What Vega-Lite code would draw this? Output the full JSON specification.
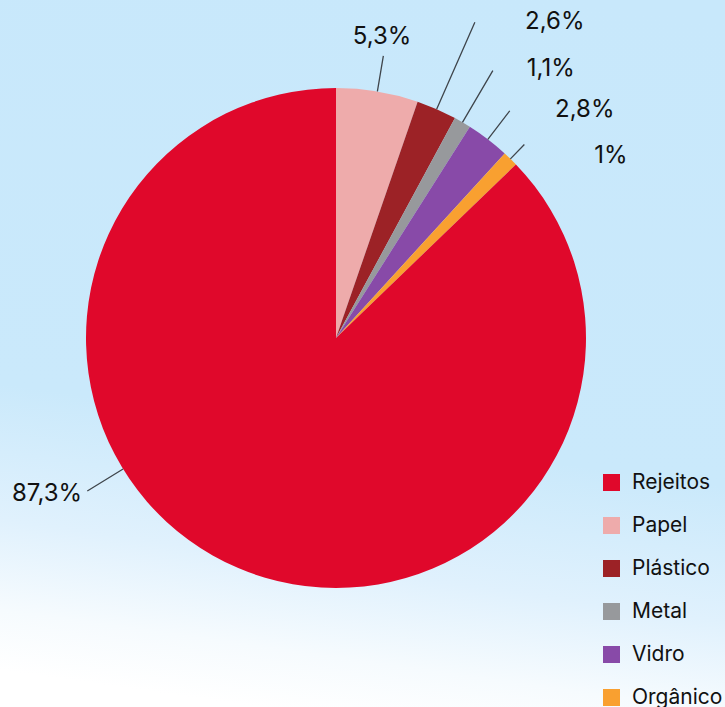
{
  "$schema": "https://vega.github.io/schema/vega-lite/v6.json",
  "width": 778,
  "height": 738,
  "autosize": {"type": "none"},
  "padding": {"left": -53, "top": -31, "right": 0, "bottom": 0},
  "background": "#ffffff",
  "config": {
    "view": {"stroke": null},
    "font": "Inter",
    "text": {"font": "Inter", "fontSize": 24, "color": "#111111", "align": "center", "baseline": "middle"}
  },
  "data": {
    "values": [
      {"categoria": "Papel", "pct": 5.3, "ordem": 1, "rotulo": "5,3%"},
      {"categoria": "Plástico", "pct": 2.6, "ordem": 2, "rotulo": "2,6%"},
      {"categoria": "Metal", "pct": 1.1, "ordem": 3, "rotulo": "1,1%"},
      {"categoria": "Vidro", "pct": 2.8, "ordem": 4, "rotulo": "2,8%"},
      {"categoria": "Orgânico", "pct": 1.0, "ordem": 5, "rotulo": "1%"},
      {"categoria": "Rejeitos", "pct": 87.3, "ordem": 6, "rotulo": "87,3%"}
    ]
  },
  "layer": [
    {
      "mark": {
        "type": "rect",
        "color": {"gradient": "linear", "x1": 0.55, "y1": 0, "x2": 0.4, "y2": 1,
          "stops": [
            {"offset": 0, "color": "#c8e8fb"},
            {"offset": 0.62, "color": "#cae9fb"},
            {"offset": 0.8, "color": "#e0f1fd"},
            {"offset": 0.92, "color": "#f6fbfe"},
            {"offset": 1, "color": "#ffffff"}
          ]}
      },
      "encoding": {}
    },
    {
      "encoding": {
        "theta": {"field": "pct", "type": "quantitative", "stack": true},
        "order": {"field": "ordem", "type": "quantitative"}
      },
      "layer": [
        {
          "mark": {"type": "arc", "outerRadius": 250, "strokeWidth": 0},
          "encoding": {
            "color": {
              "field": "categoria", "type": "nominal",
              "scale": {
                "domain": ["Rejeitos", "Papel", "Plástico", "Metal", "Vidro", "Orgânico"],
                "range": ["#e0082b", "#eeabab", "#9c2226", "#97999c", "#884aa8", "#f9a030"]
              },
              "legend": {
                "orient": "none", "legendX": 654, "legendY": 503, "title": null,
                "symbolType": "square", "symbolSize": 289, "symbolStrokeWidth": 0, "symbolOpacity": 1,
                "labelFontSize": 21, "labelFont": "Inter", "labelColor": "#111111",
                "labelOffset": 10, "rowPadding": 21, "padding": 0
              }
            }
          }
        },
        {
          "mark": {"type": "arc", "innerRadius": 250, "outerRadius": 286, "padAngle": 3, "filled": false, "stroke": "#3f454b", "strokeWidth": 1.3},
          "encoding": {"detail": {"field": "categoria"}, "strokeOpacity": {"condition": {"test": "datum.categoria === 'Papel'", "value": 1}, "value": 0}}
        },
        {
          "mark": {"type": "arc", "innerRadius": 250, "outerRadius": 345, "padAngle": 3, "filled": false, "stroke": "#3f454b", "strokeWidth": 1.3},
          "encoding": {"detail": {"field": "categoria"}, "strokeOpacity": {"condition": {"test": "datum.categoria === 'Plástico'", "value": 1}, "value": 0}}
        },
        {
          "mark": {"type": "arc", "innerRadius": 250, "outerRadius": 310, "padAngle": 3, "filled": false, "stroke": "#3f454b", "strokeWidth": 1.3},
          "encoding": {"detail": {"field": "categoria"}, "strokeOpacity": {"condition": {"test": "datum.categoria === 'Metal'", "value": 1}, "value": 0}}
        },
        {
          "mark": {"type": "arc", "innerRadius": 250, "outerRadius": 286, "padAngle": 3, "filled": false, "stroke": "#3f454b", "strokeWidth": 1.3},
          "encoding": {"detail": {"field": "categoria"}, "strokeOpacity": {"condition": {"test": "datum.categoria === 'Vidro'", "value": 1}, "value": 0}}
        },
        {
          "mark": {"type": "arc", "innerRadius": 250, "outerRadius": 270, "padAngle": 3, "filled": false, "stroke": "#3f454b", "strokeWidth": 1.3},
          "encoding": {"detail": {"field": "categoria"}, "strokeOpacity": {"condition": {"test": "datum.categoria === 'Orgânico'", "value": 1}, "value": 0}}
        },
        {
          "mark": {"type": "arc", "innerRadius": 250, "outerRadius": 292, "padAngle": 3, "thetaOffset": 3.3887, "filled": false, "stroke": "#3f454b", "strokeWidth": 1.3},
          "encoding": {"detail": {"field": "categoria"}, "strokeOpacity": {"condition": {"test": "datum.categoria === 'Orgânico'", "value": 1}, "value": 0}}
        },
        {
          "mark": {"type": "text", "radius": 304.5, "thetaOffset": -0.0147},
          "encoding": {"detail": {"field": "categoria"}, "text": {"condition": {"test": "datum.categoria === 'Papel'", "field": "rotulo"}, "value": ""}}
        },
        {
          "mark": {"type": "text", "radius": 384.5, "thetaOffset": 0.191},
          "encoding": {"detail": {"field": "categoria"}, "text": {"condition": {"test": "datum.categoria === 'Plástico'", "field": "rotulo"}, "value": ""}}
        },
        {
          "mark": {"type": "text", "radius": 344.4, "thetaOffset": 0.143},
          "encoding": {"detail": {"field": "categoria"}, "text": {"condition": {"test": "datum.categoria === 'Metal'", "field": "rotulo"}, "value": ""}}
        },
        {
          "mark": {"type": "text", "radius": 337.6, "thetaOffset": 0.1756},
          "encoding": {"detail": {"field": "categoria"}, "text": {"condition": {"test": "datum.categoria === 'Vidro'", "field": "rotulo"}, "value": ""}}
        },
        {
          "mark": {"type": "text", "radius": 329.8, "thetaOffset": 0.213},
          "encoding": {"detail": {"field": "categoria"}, "text": {"condition": {"test": "datum.categoria === 'Orgânico'", "field": "rotulo"}, "value": ""}}
        },
        {
          "mark": {"type": "text", "radius": 328.4, "thetaOffset": 0.674},
          "encoding": {"detail": {"field": "categoria"}, "text": {"condition": {"test": "datum.categoria === 'Rejeitos'", "field": "rotulo"}, "value": ""}}
        }
      ]
    }
  ]
}
